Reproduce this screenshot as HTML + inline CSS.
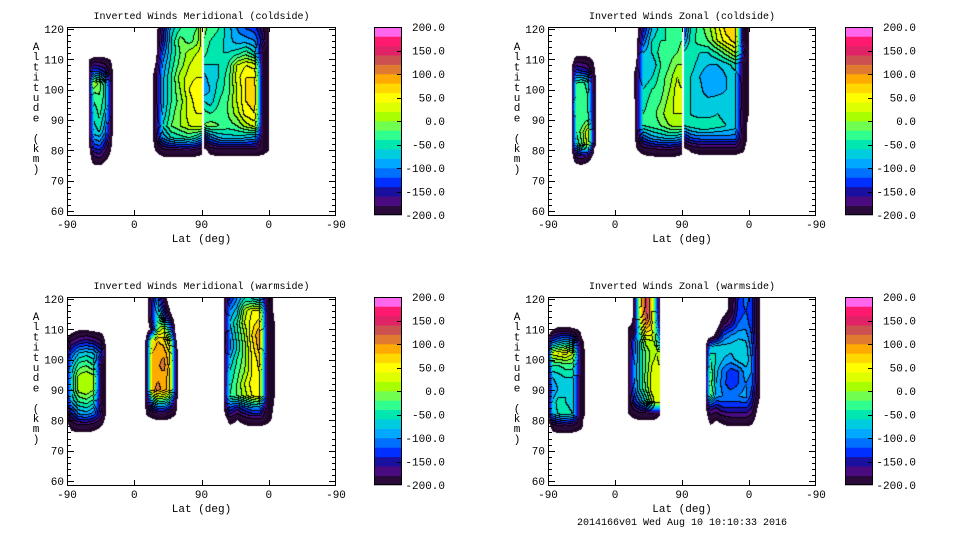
<!DOCTYPE html>
<html><head><meta charset="utf-8"><style>
html,body{margin:0;padding:0;background:#fff}
#root{position:relative;width:960px;height:540px;overflow:hidden;background:#fff;font-family:"Liberation Mono",monospace}
canvas{position:absolute}
svg{position:absolute;left:0;top:0}
</style></head><body>
<div id="root">
<canvas id="c0"></canvas>
<canvas id="c1"></canvas>
<canvas id="c2"></canvas>
<canvas id="c3"></canvas>
<svg id="ov" width="960" height="540"></svg>
</div>
<script>
const levels=[-200,-180,-160,-140,-120,-100,-80,-60,-40,-20,0,20,40,60,80,100,120,140,160,180,200];
const bandColors=["#2a0a3a","#4a0a80","#1a10a0","#0030ff","#0070ff","#00a8ff","#00cce0","#00e6b0","#30ff90","#70ff50","#a8ff00","#ddff00","#ffff00","#ffd800","#ffaa00","#e07a30","#cc5050","#e02266","#ff1a70","#ff66ee"];
const cbLabels=["200.0","150.0","100.0","50.0","0.0","-50.0","-100.0","-150.0","-200.0"];
const cbLabelVals=[200,150,100,50,0,-50,-100,-150,-200];
const xTickLabels=["-90","0","90","0","-90"];
const xTickPos=[0,90,180,270,360];
const yTickLabels=["60","70","80","90","100","110","120"];
const yTickVals=[60,70,80,90,100,110,120];
const titles=["Inverted Winds Meridional (coldside)","Inverted Winds Zonal (coldside)","Inverted Winds Meridional (warmside)","Inverted Winds Zonal (warmside)"];

const tlB1Lats=[30,36,44,52,60,66];
const tlB1Alts=[74,78,82,86,90,94,98,102,106,110,112];
const tlB1Vals=[[-240,-230,-230,-240,-240,-240],[-230,-180,-170,-200,-230,-240],[-210,-120,-110,-150,-215,-240],[-200,-70,-60,-100,-210,-230],[-200,-60,-40,-80,-210,-230],[-200,-50,-30,-60,-210,-230],[-200,-30,-20,-50,-210,-230],[-200,20,-10,-60,-210,-230],[-200,-120,-130,-150,-210,-230],[-215,-200,-200,-205,-220,-240],[-240,-240,-240,-240,-240,-240]];
const tlB2Lats=[110,118,128,140,152,164,174,180];
const tlB2Alts=[76,80,84,88,92,96,100,104,108,112,116,120,124];
const tlB2Vals=[[-240,-240,-240,-240,-240,-240,-240,-240],[-240,-215,-190,-180,-180,-180,-190,-200],[-240,-200,-100,-60,-50,-40,-60,-80],[-240,-200,-60,-20,0,20,30,30],[-240,-200,-80,-30,0,30,40,40],[-240,-200,-90,-40,-10,30,50,40],[-240,-200,-90,-40,0,40,60,50],[-240,-200,-90,-40,10,30,40,40],[-240,-215,-100,-50,-10,20,30,30],[-240,-240,-120,-60,-20,10,20,30],[-240,-240,-150,-60,-10,-30,-10,20],[-240,-240,-160,-70,-40,-30,-20,20],[-240,-240,-160,-70,-40,-30,-20,20]];
const tlB3Lats=[183,192,204,216,228,240,252,262,270,278];
const tlB3Alts=[76,80,84,88,92,96,100,104,108,112,116,120,124];
const tlB3Vals=[[-240,-240,-240,-240,-240,-240,-240,-240,-240,-240],[-230,-200,-190,-190,-190,-190,-190,-200,-215,-240],[-150,-110,-80,-70,-70,-80,-90,-200,-212,-240],[-20,-10,-20,-30,-20,10,30,-205,-212,-240],[-30,-40,-30,-20,10,50,60,-205,-212,-240],[-60,-70,-40,-20,20,60,70,-205,-212,-240],[-100,-80,-50,-30,20,60,70,-205,-212,-240],[-90,-70,-60,-30,30,60,60,-205,-212,-240],[-60,-60,-60,-40,20,40,30,-205,-212,-240],[-30,-50,-60,-60,-50,-30,-60,-205,-212,-240],[-20,-40,-50,-70,-90,-90,-100,-150,-215,-240],[-10,-30,-40,-70,-100,-120,-130,-170,-215,-240],[-10,-30,-40,-70,-100,-120,-130,-170,-215,-240]];

const trB1Lats=[32,38,46,54,62,68];
const trB1Alts=[74,78,82,86,90,94,98,102,106,110,113];
const trB1Vals=[[-240,-240,-240,-240,-240,-240],[-230,-170,-160,-190,-230,-240],[-210,-60,-20,30,-205,-230],[-210,-40,-10,40,-205,-230],[-210,-30,-40,-20,-205,-230],[-210,-20,-30,-40,-205,-230],[-210,-30,-20,-40,-205,-230],[-210,-40,-30,-50,-205,-230],[-210,-130,-140,-150,-210,-230],[-230,-200,-200,-205,-220,-240],[-240,-240,-240,-240,-240,-240]];
const trB2Lats=[110,118,128,140,152,164,174,180];
const trB2Alts=[76,80,84,88,92,96,100,104,108,112,116,120,124];
const trB2Vals=[[-240,-240,-240,-240,-240,-240,-240,-240],[-240,-220,-200,-190,-185,-185,-190,-200],[-240,-210,-120,-90,-80,-70,-80,-90],[-240,-210,-40,-30,-20,0,10,10],[-240,-210,-40,-30,-10,20,20,20],[-240,-210,-50,-30,-20,10,30,20],[-240,-200,-60,-40,-30,0,30,20],[-240,-200,-80,-60,-30,-10,20,10],[-240,-215,-70,-80,-40,-20,0,0],[-240,-240,-80,-60,-30,-30,-20,-10],[-240,-240,-120,-60,-40,-40,-30,-20],[-240,-240,-150,-80,-50,-30,-40,-30],[-240,-240,-150,-80,-50,-30,-40,-30]];
const trB3Lats=[183,192,204,216,228,240,252,262,270,280];
const trB3Alts=[76,80,84,88,92,96,100,104,108,112,116,120,124];
const trB3Vals=[[-240,-240,-240,-240,-240,-240,-240,-240,-240,-240],[-230,-210,-200,-200,-200,-200,-200,-210,-230,-240],[-150,-120,-110,-110,-110,-110,-110,-200,-220,-240],[-60,-50,-40,-40,-50,-60,-70,-205,-220,-240],[-60,-60,-70,-70,-60,-70,-70,-205,-215,-240],[-50,-60,-70,-70,-70,-70,-80,-205,-215,-240],[-50,-60,-70,-100,-90,-80,-80,-205,-215,-240],[-40,-60,-80,-100,-100,-80,-70,-205,-215,-240],[-40,-50,-70,-80,-80,-70,-50,-205,-215,-240],[-50,-40,-60,-60,-40,-10,20,-150,-215,-240],[-100,-50,-30,-20,20,50,70,-200,-215,-240],[-130,-60,-30,-10,30,70,80,-205,-215,-240],[-130,-60,-30,-10,30,70,80,-205,-215,-240]];

const blB1Lats=[-2,6,16,26,36,46,52,58];
const blB1Alts=[74,78,82,86,90,94,98,102,106,110,113];
const blB1Vals=[[-240,-240,-240,-240,-240,-240,-240,-240],[-240,-200,-190,-190,-200,-215,-240,-240],[-220,-150,-100,-90,-110,-160,-215,-240],[-210,-80,-40,-30,-50,-205,-215,-240],[-210,-60,10,20,0,-205,-215,-240],[-210,-60,10,20,10,-205,-215,-240],[-210,-80,-30,-20,-40,-205,-215,-240],[-210,-120,-80,-70,-80,-120,-215,-240],[-215,-180,-160,-150,-160,-180,-220,-240],[-240,-230,-220,-220,-225,-230,-240,-240],[-240,-240,-240,-240,-240,-240,-240,-240]];
const blB2Lats=[100,106,114,122,130,138,146,152];
const blB2Alts=[78,82,86,90,94,98,102,106,110,114,118,122];
const blB2Vals=[[-240,-240,-240,-240,-240,-240,-240,-240],[-240,-215,-200,-190,-190,-200,-215,-240],[-240,-205,-80,-40,-40,-80,-205,-240],[-240,-205,90,110,90,70,-200,-240],[-240,-205,85,95,90,70,-200,-240],[-240,-205,85,95,110,70,-200,-240],[-240,-205,80,95,95,60,-200,-240],[-240,-205,60,80,70,20,-210,-240],[-240,-240,-200,0,30,-100,-240,-240],[-240,-240,-150,-40,-100,-200,-240,-240],[-240,-240,-150,-80,-180,-230,-240,-240],[-240,-240,-170,-120,-220,-240,-240,-240]];
const blB3Lats=[210,218,228,238,248,258,268,276,284,290];
const blB3Alts=[76,80,84,88,92,96,100,104,108,112,116,120,124];
const blB3Vals=[[-240,-240,-240,-240,-240,-240,-240,-240,-240,-240],[-240,-200,-215,-200,-190,-190,-205,-220,-240,-240],[-215,-120,-150,-120,-100,-100,-200,-215,-230,-240],[-210,-40,-20,10,40,60,-205,-210,-230,-240],[-210,-50,-20,20,50,60,-205,-210,-230,-240],[-210,-60,-30,0,40,60,-205,-210,-230,-240],[-210,-80,-40,-10,40,70,-205,-210,-230,-240],[-210,-110,-60,-10,50,90,-205,-210,-230,-240],[-210,-100,-50,0,60,100,-205,-210,-230,-240],[-210,-80,-40,20,50,70,-205,-210,-230,-240],[-210,-100,-70,10,40,40,-205,-215,-230,-240],[-210,-140,-100,-60,-60,-80,-205,-215,-230,-240],[-210,-140,-100,-60,-60,-80,-205,-215,-230,-240]];

const brB1Lats=[0,6,14,24,34,44,50,58];
const brB1Alts=[74,78,82,86,90,94,98,102,106,110,113];
const brB1Vals=[[-240,-240,-240,-240,-240,-240,-240,-240],[-240,-200,-180,-180,-190,-205,-230,-240],[-220,-80,-60,-50,-60,-205,-215,-240],[-210,-80,-50,-60,-70,-205,-215,-240],[-210,-100,-80,-60,-70,-205,-215,-240],[-210,-80,-70,-60,-60,-205,-215,-240],[-210,-40,-40,-30,-30,-205,-215,-240],[-210,30,40,50,20,-205,-215,-240],[-215,-120,-100,-80,-100,-205,-220,-240],[-240,-220,-205,-205,-210,-220,-240,-240],[-240,-240,-240,-240,-240,-240,-240,-240]];
const brB2Lats=[102,108,116,124,132,140,146,150];
const brB2Alts=[78,82,86,90,94,98,102,106,110,114,118,122];
const brB2Vals=[[-240,-240,-240,-240,-240,-240,-240,-240],[-240,-215,-200,-190,-190,-190,-200,-210],[-240,-210,-140,-100,-60,0,40,40],[-240,-210,-110,-60,-20,30,40,30],[-240,-210,-100,-60,-10,30,30,30],[-240,-210,-100,-60,-20,20,30,20],[-240,-210,-110,-60,-20,10,20,10],[-240,-210,-120,-50,10,20,-20,-100],[-240,-210,-205,0,80,60,-60,-150],[-240,-240,-205,40,140,80,-100,-200],[-240,-240,-205,60,150,60,-120,-210],[-240,-240,-205,60,150,60,-120,-210]];
const brB3Lats=[212,218,226,236,246,256,266,274,282,288];
const brB3Alts=[76,80,84,88,92,96,100,104,108,112,116,120,124];
const brB3Vals=[[-240,-240,-240,-240,-240,-240,-240,-240,-240,-240],[-240,-200,-215,-200,-190,-190,-190,-200,-240,-240],[-220,-150,-160,-140,-140,-140,-140,-160,-220,-240],[-210,-20,-90,-100,-100,-100,-90,-130,-195,-240],[-210,0,-80,-110,-140,-120,-100,-110,-195,-240],[-210,-20,-70,-110,-130,-120,-90,-100,-195,-240],[-210,-40,-60,-80,-90,-70,-60,-100,-195,-240],[-220,-80,-60,-70,-70,-60,-70,-110,-195,-240],[-240,-240,-200,-120,-100,-90,-90,-120,-195,-240],[-240,-240,-240,-190,-160,-120,-110,-130,-195,-240],[-240,-240,-240,-230,-200,-130,-120,-130,-195,-240],[-240,-240,-240,-240,-200,-140,-110,-130,-195,-240],[-240,-240,-240,-240,-200,-140,-110,-130,-195,-240]];

const panels=[
 {l:67,r:336,t:27,b:215,cb:374,blobs:[[tlB1Lats,tlB1Alts,tlB1Vals],[tlB2Lats,tlB2Alts,tlB2Vals],[tlB3Lats,tlB3Alts,tlB3Vals]]},
 {l:548,r:816,t:27,b:215,cb:845,blobs:[[trB1Lats,trB1Alts,trB1Vals],[trB2Lats,trB2Alts,trB2Vals],[trB3Lats,trB3Alts,trB3Vals]]},
 {l:67,r:336,t:297,b:485,cb:374,blobs:[[blB1Lats,blB1Alts,blB1Vals],[blB2Lats,blB2Alts,blB2Vals],[blB3Lats,blB3Alts,blB3Vals]]},
 {l:548,r:816,t:297,b:485,cb:845,blobs:[[brB1Lats,brB1Alts,brB1Vals],[brB2Lats,brB2Alts,brB2Vals],[brB3Lats,brB3Alts,brB3Vals]]}
];
const ALT_TOP=120.66, ALT_BOT=58.68;

function findIdx(arr,v){for(let k=0;k<arr.length-1;k++){if(v<=arr[k+1])return k;}return arr.length-2;}
function sample(blobs,x,alt){
  for(const [lats,alts,vals] of blobs){
    if(x<lats[0]||x>lats[lats.length-1]||alt<alts[0]||alt>alts[alts.length-1])continue;
    const i=findIdx(lats,x), j=findIdx(alts,alt);
    const fx=(x-lats[i])/(lats[i+1]-lats[i]), fy=(alt-alts[j])/(alts[j+1]-alts[j]);
    return vals[j][i]*(1-fx)*(1-fy)+vals[j][i+1]*fx*(1-fy)+vals[j+1][i]*(1-fx)*fy+vals[j+1][i+1]*fx*fy;
  }
  return null;
}
function code(v){if(v===null||v<-215)return -1;if(v<-200)return -2;let k=Math.floor((v+200)/20);return Math.max(0,Math.min(19,k));}
function hex(h){return [parseInt(h.substr(1,2),16),parseInt(h.substr(3,2),16),parseInt(h.substr(5,2),16)];}
const rgb=bandColors.map(hex);

panels.forEach((p,pi)=>{
  const cv=document.getElementById('c'+pi);
  const w=p.r-p.l, h=p.b-p.t;
  cv.width=w;cv.height=h;cv.style.left=p.l+'px';cv.style.top=p.t+'px';
  const ctx=cv.getContext('2d');
  const img=ctx.createImageData(w,h);
  const codes=new Int8Array(w*h);
  for(let j=0;j<h;j++){const alt=ALT_TOP-(j+0.5)/h*(ALT_TOP-ALT_BOT);
    for(let i=0;i<w;i++){const x=(i+0.5)/w*360;codes[j*w+i]=code(sample(p.blobs,x,alt));}}
  const C=(i,j)=>(i<0||j<0||i>=w||j>=h)?-9:codes[j*w+i];
  for(let j=0;j<h;j++)for(let i=0;i<w;i++){
    const c=codes[j*w+i];let col;
    if(c===-1)col=[255,255,255];else if(c===-2)col=[30,5,40];else{
      col=rgb[c];
      const rc=C(i+1,j), dc=C(i,j+1), lc=C(i-1,j), uc=C(i,j-1);
      const hEdge=rc>=0&&rc!==c&&(lc===c);
      const vEdge=dc>=0&&dc!==c&&(uc===c);
      if(hEdge||vEdge)col=[0,0,0];
    }
    const o=(j*w+i)*4;img.data[o]=col[0];img.data[o+1]=col[1];img.data[o+2]=col[2];img.data[o+3]=255;
  }
  ctx.putImageData(img,0,0);
});

const NS='http://www.w3.org/2000/svg';const ov=document.getElementById('ov');
function mk(tag,attrs,parent){const e=document.createElementNS(NS,tag);for(const k in attrs)e.setAttribute(k,attrs[k]);(parent||ov).appendChild(e);return e;}
function txt(s,x,y,anchor,size,parent){const e=mk('text',{x:x,y:y,'text-anchor':anchor,'font-size':size,'font-family':'Liberation Mono, monospace',fill:'#000'},parent);e.textContent=s;return e;}

panels.forEach((p,pi)=>{
  const g=mk('g',{});
  
  
  const ay=a=>p.t+(ALT_TOP-a)/(ALT_TOP-ALT_BOT)*(p.b-p.t);
  const ax=x=>p.l+x/360*(p.r-p.l);
  const box=mk('rect',{x:p.l+0.5,y:p.t+0.5,width:p.r-p.l-1,height:p.b-p.t,fill:'none',stroke:'#000','stroke-width':1},g);
  
  
  for(let a=60;a<=120;a+=2){const y=Math.round(ay(a))+0.5;const L=(a%10===0)?7:4;
    mk('line',{x1:p.l,x2:p.l+L,y1:y,y2:y,stroke:'#000'},g);mk('line',{x1:p.r-L,x2:p.r,y1:y,y2:y,stroke:'#000'},g);}
  yTickVals.forEach((v,k)=>{const t=txt(yTickLabels[k],p.l-3,ay(v)+4,'end',11,g);
    });
  xTickPos.forEach((v,k)=>{const x=Math.round(ax(v))+0.5;
    if(k>0&&k<4){mk('line',{x1:x,x2:x,y1:p.b,y2:p.b-5,stroke:'#000'},g);mk('line',{x1:x,x2:x,y1:p.t,y2:p.t+5,stroke:'#000'},g);}
    const t=txt(xTickLabels[k],ax(v),p.b+13,'middle',11,g);
    });
  const tt=txt(titles[pi],(p.l+p.r)/2,p.t-8,'middle',10,g);
  
  const xl=txt('Lat (deg)',(p.l+p.r)/2,p.b+27,'middle',11,g);
  
  const yl=mk('g',{},g);
  
  'Altitude (km)'.split('').forEach((ch,k)=>{txt(ch,p.l-31,p.t+23+k*10.2,'middle',11,yl);});
  const cb=mk('g',{},g);
  
  const cy=v=>p.t+(200-v)/400*(p.b-p.t);
  for(let k=0;k<20;k++){const r=mk('rect',{x:p.cb,y:cy(levels[k+1]),width:28,height:cy(levels[k])-cy(levels[k+1])+0.3,fill:bandColors[k]},cb);
    }
  mk('rect',{x:p.cb+0.5,y:p.t+0.5,width:27,height:p.b-p.t-1,fill:'none',stroke:'#000'},cb);
  cbLabelVals.forEach((v,k)=>{const y=cy(v);if(k>0&&k<8)mk('line',{x1:p.cb+23,x2:p.cb+28,y1:Math.round(y)+0.5,y2:Math.round(y)+0.5,stroke:'#000'},cb);
    const t=txt(cbLabels[k],p.cb+71,y+4,'end',11,cb);});
});
const ft=txt('2014166v01 Wed Aug 10 10:10:33 2016',682,525,'middle',10);


</script>
</body></html>
